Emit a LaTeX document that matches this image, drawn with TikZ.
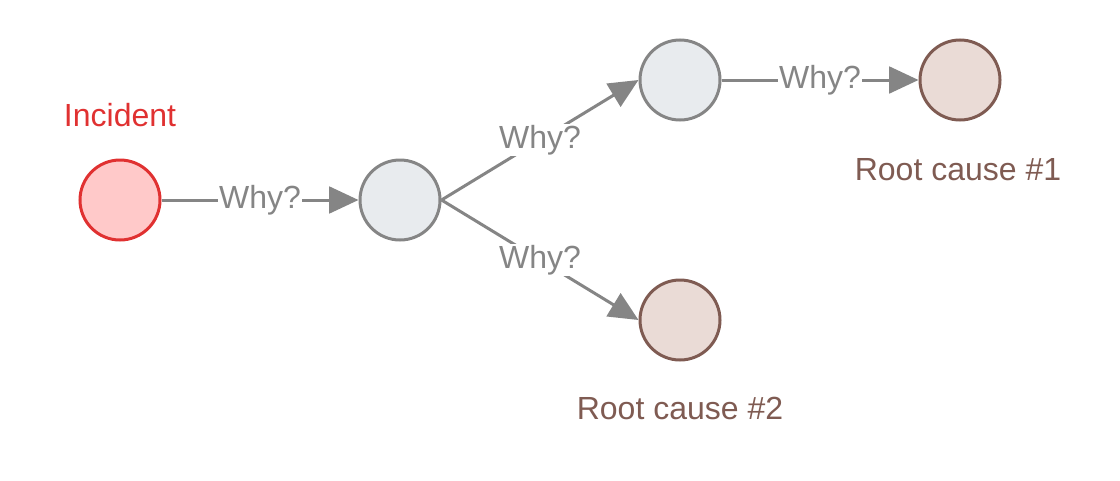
\documentclass[tikz,border=0pt]{standalone}
\usepackage{fontspec}
\setmainfont{Liberation Sans}
\usetikzlibrary{arrows.meta}

\definecolor{edgegray}{HTML}{858585}
\definecolor{stepfill}{HTML}{E8EBEE}
\definecolor{incred}{HTML}{E03131}
\definecolor{incfill}{HTML}{FFC9C9}
\definecolor{rootbrown}{HTML}{7F5B52}
\definecolor{rootfill}{HTML}{EADBD6}

\begin{document}
\begin{tikzpicture}[x=0.75pt,y=0.75pt,
    font=\fontsize{24}{28}\selectfont,
    whynode/.style={circle,minimum size=60pt,inner sep=0pt,line width=2.25pt},
    incident/.style={whynode,draw=incred,fill=incfill},
    stepnode/.style={whynode,draw=edgegray,fill=stepfill},
    rootnode/.style={whynode,draw=rootbrown,fill=rootfill},
    why/.style={draw=edgegray,line width=2.25pt,-{Triangle[length=22pt,width=20pt]}},
    whylabel/.style={midway,fill=white,inner sep=1pt,text=edgegray}]
  \useasboundingbox (0,0) rectangle (1120,480);

  \node [incident] (inc) at (120,280) {};
  \node [stepnode] (s1) at (400,280) {};
  \node [stepnode] (s2) at (680,400) {};
  \node [rootnode] (r1) at (960,400) {};
  \node [rootnode] (r2) at (680,160) {};

  %% Labels
  \node [text=incred] (incl) at (120,365) {Incident};
  \node [text=rootbrown] (r1l) at (958,310) {Root cause \#1};
  \node [text=rootbrown] (r2l) at (680,72) {Root cause \#2};

  %% Edges
  \draw [why] (inc) -- (s1) node [whylabel] {Why?};
  \draw [why] (s1.east) -- (s2.west) node [whylabel] {Why?};
  \draw [why] (s1.east) -- (r2.west) node [whylabel] {Why?};
  \draw [why] (s2) -- (r1) node [whylabel] {Why?};

\end{tikzpicture}
\end{document}
